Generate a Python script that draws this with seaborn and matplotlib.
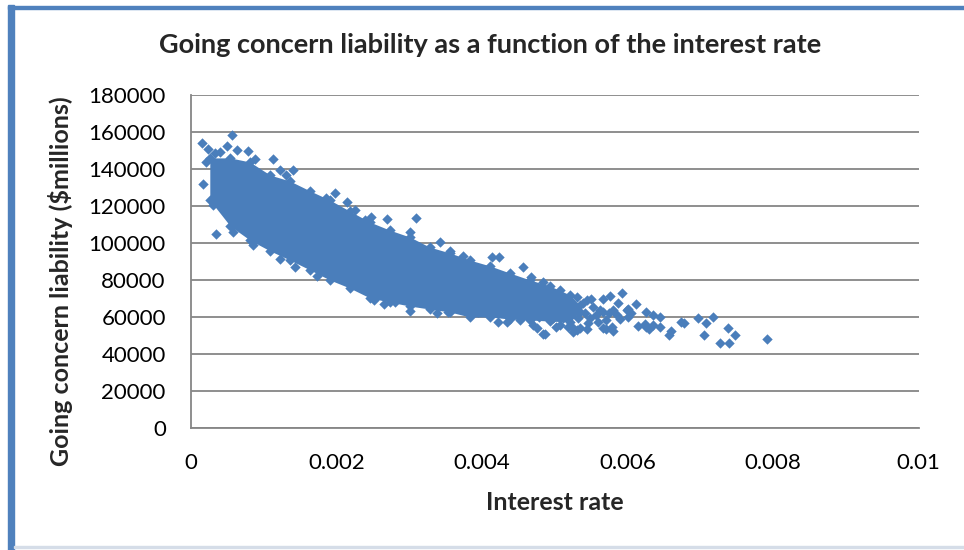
import matplotlib
matplotlib.use("Agg")
import matplotlib.pyplot as plt
import seaborn as sns
import pandas as pd
from matplotlib.patches import Rectangle

title = "Going concern liability as a function of the interest rate"
x_label = "Interest rate"
y_label = "Going concern liability (\\$millions)"
x_ticks = [0, 0.002, 0.004, 0.006, 0.008, 0.01]
x_tick_labels = ["0", "0.002", "0.004", "0.006", "0.008", "0.01"]
y_ticks = [0, 20000, 40000, 60000, 80000, 100000, 120000, 140000, 160000, 180000]
y_tick_labels = ["0", "20000", "40000", "60000", "80000", "100000",
                 "120000", "140000", "160000", "180000"]

# Dense core of the simulated scenarios: lower / upper bound at each rate
band_rate = [0.00026, 0.00054, 0.00081, 0.00109, 0.00136, 0.00164, 0.00191,
             0.00218, 0.00246, 0.00273, 0.00301, 0.00328, 0.00356, 0.00383,
             0.00411, 0.00438, 0.00466, 0.00493, 0.00521, 0.00534]
band_high = [146000, 146000, 143800, 136700, 133500, 128100, 123200,
             117300, 111300, 107000, 103200, 97800, 94600, 90800,
             87600, 83800, 80000, 76800, 71900, 66500]
band_low = [123200, 109200, 101600, 95700, 90800, 85400, 80000,
            75700, 70300, 68100, 65900, 64300, 62700, 60000,
            60000, 58900, 58400, 57800, 57300, 62700]

# Individual scenarios lying outside the dense core
rate = [0.00056, 0.00015, 0.00049, 0.00024, 0.00064, 0.00079, 0.00033, 0.00040,
        0.00113, 0.00088, 0.00021, 0.00122, 0.00141, 0.00131, 0.00016, 0.00198,
        0.00186, 0.00214, 0.00225, 0.00248, 0.00239, 0.00269, 0.00310, 0.00301,
        0.00342, 0.00356, 0.00374, 0.00414, 0.00424, 0.00456, 0.00468, 0.00484,
        0.00507,
        0.00030, 0.00035, 0.00058, 0.00085, 0.00122, 0.00143, 0.00173, 0.00252,
        0.00265, 0.00280, 0.00301, 0.00338, 0.00353, 0.00395, 0.00422, 0.00434,
        0.00452, 0.00470, 0.00475, 0.00486, 0.00502, 0.00523, 0.00530,
        0.00530, 0.00544, 0.00550, 0.00576, 0.00566, 0.00592, 0.00587, 0.00539,
        0.00525, 0.00553, 0.00562, 0.00566, 0.00580, 0.00585, 0.00601, 0.00612,
        0.00625, 0.00635, 0.00644, 0.00614, 0.00626, 0.00635, 0.00644, 0.00674,
        0.00677, 0.00697, 0.00717, 0.00708, 0.00660, 0.00657, 0.00705, 0.00738,
        0.00748, 0.00727, 0.00740, 0.00791, 0.00484, 0.00525, 0.00534, 0.00544,
        0.00571, 0.00578, 0.00507, 0.00518, 0.00498, 0.00511, 0.00479, 0.00599,
        0.00605, 0.00624, 0.00630, 0.00566, 0.00580,
        0.00541, 0.00548, 0.00532, 0.00557, 0.00570, 0.00560, 0.00590, 0.00600,
        0.00575, 0.00545]
liability = [158400, 154200, 152600, 150600, 150000, 149700, 148600, 149200,
             145200, 145400, 143900, 139400, 139400, 136700, 131800, 126900,
             124500, 122300, 117800, 114200, 112400, 113000, 113500, 106100,
             100400, 95800, 93000, 92300, 92400, 87200, 81500, 79100,
             74600,
             120300, 104700, 106100, 98900, 91200, 87200, 82200, 69000,
             66900, 68300, 63400, 62000, 62900, 62900, 57500, 57500,
             58400, 55700, 53900, 50800, 54800, 54800, 53000,
             71000, 69200, 69600, 71300, 69600, 73000, 67700, 67400,
             65600, 65600, 63800, 62900, 63800, 61100, 64200, 66900,
             62900, 61100, 60000, 55100, 54400, 55700, 54400, 57500,
             56600, 59700, 60200, 56600, 52400, 50300, 50100, 54200,
             50400, 45800, 46100, 48000, 50600, 52100, 53900, 53300,
             53300, 54400, 55700, 54800, 59300, 59300, 60200, 63800,
             62000, 56200, 53300, 53900, 52600,
             62200, 59500, 59500, 61300, 58500, 57500, 58800, 60000,
             62000, 57000]

point_color = "#4A7EBB"
grid_color = "#868686"

sns.set_style("white")
plt.rcParams["font.family"] = ["Lato", "DejaVu Sans"]

fig = plt.figure(figsize=(9.64, 5.5), dpi=100)
ax = fig.add_axes([0.198, 0.2218, 0.755, 0.6055])

core = pd.DataFrame({"rate": band_rate, "low": band_low, "high": band_high})
scatter = pd.DataFrame({"rate": rate, "liability": liability})
edges = pd.DataFrame({"rate": band_rate + band_rate,
                      "liability": band_low + band_high})

ax.fill_between(core["rate"], core["low"], core["high"],
                color=point_color, lw=0, zorder=2)
sns.scatterplot(data=edges, x="rate", y="liability", ax=ax, marker="D",
                s=28, color=point_color, linewidth=0, zorder=3)
sns.scatterplot(data=scatter, x="rate", y="liability", ax=ax, marker="D",
                s=28, color=point_color, linewidth=0, zorder=3)

ax.set_xlim(0, 0.01)
ax.set_ylim(0, 180000)
ax.set_xticks(x_ticks)
ax.set_xticklabels(x_tick_labels)
ax.set_yticks(y_ticks)
ax.set_yticklabels(y_tick_labels)
ax.set_xlabel("")
ax.set_ylabel("")
ax.yaxis.grid(True, color=grid_color, lw=1.3)
ax.xaxis.grid(False)
ax.set_axisbelow(True)
for side in ("top", "right"):
    ax.spines[side].set_visible(False)
for side in ("left", "bottom"):
    ax.spines[side].set_color(grid_color)
    ax.spines[side].set_linewidth(1.3)
ax.tick_params(axis="both", direction="out", length=5, width=1.3,
               color=grid_color, labelsize=16, labelcolor="black")
ax.tick_params(axis="y", pad=13)
ax.tick_params(axis="x", pad=13)

fig.text(490 / 964, 1 - 45 / 550, title, ha="center", va="center",
         fontsize=19.5, fontweight="bold")
fig.text(555 / 964, 1 - 503 / 550, x_label, ha="center", va="center",
         fontsize=18, fontweight="bold")
fig.text(61 / 964, 1 - 281 / 550, y_label, ha="center", va="center",
         rotation=90, fontsize=18, fontweight="bold")

# chart frame accents
fig.patches.append(Rectangle((8 / 964, 0), 6 / 964, 1 - 5 / 550,
                             transform=fig.transFigure, color="#4F81BD", zorder=0))
fig.patches.append(Rectangle((8 / 964, 1 - 9 / 550), 1, 3 / 550,
                             transform=fig.transFigure, color="#4F81BD", zorder=0))
fig.patches.append(Rectangle((14 / 964, 1 - 548 / 550), 1, 2 / 550,
                             transform=fig.transFigure, color="#D5DDE8", zorder=0))

fig.savefig("out.png", dpi=100)
